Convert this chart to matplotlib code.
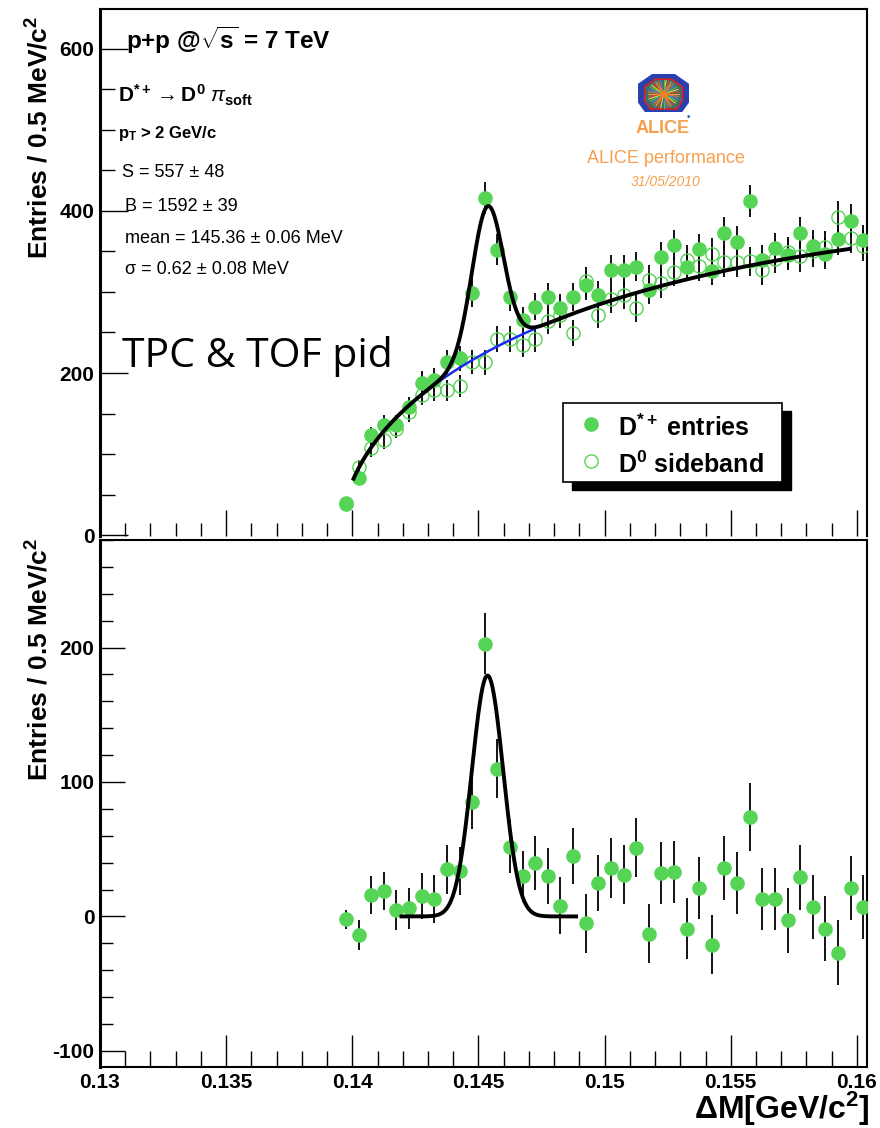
import numpy as np
import matplotlib
matplotlib.use("Agg")
import matplotlib.pyplot as plt
from matplotlib.patches import Rectangle, Polygon
from matplotlib.lines import Line2D
from matplotlib.ticker import MultipleLocator, FuncFormatter

plt.rcParams['font.family'] = ['Liberation Sans', 'DejaVu Sans']
plt.rcParams['mathtext.fontset'] = 'custom'
plt.rcParams['mathtext.rm'] = 'Liberation Sans'
plt.rcParams['mathtext.it'] = 'Liberation Sans:italic'
plt.rcParams['mathtext.bf'] = 'Liberation Sans:bold'
plt.rcParams['axes.unicode_minus'] = False

W, H = 880, 1128

# delta-M histogram, 0.5 MeV bins
bin_first = 0.13975
bin_width = 0.0005
n_bins = 42
dm = bin_first + bin_width * np.arange(n_bins)

dstar = [38, 70, 123, 136, 136, 158, 188, 192, 214, 218, 299, 416, 352, 294,
         265, 282, 294, 280, 294, 308, 296, 327, 327, 331, 302, 343, 358, 331,
         353, 326, 373, 362, 412, 340, 354, 346, 373, 357, 347, 365, 388, 364]
dstar_err = [6, 8, 11, 12, 12, 13, 14, 14, 15, 15, 17, 20, 19, 17, 16, 17, 17,
             17, 17, 18, 17, 18, 18, 18, 17, 19, 19, 18, 19, 18, 19, 19, 20, 18,
             19, 19, 19, 19, 19, 19, 20, 19]

sideband = [40, 84, 107, 117, 131, 152, 173, 179, 179, 184, 214, 213, 242, 242,
            235, 242, 264, 272, 249, 313, 271, 291, 296, 280, 315, 311, 325, 340,
            332, 347, 337, 337, 338, 327, 341, 349, 344, 350, 356, 392, 367, 357]
sideband_err = [6, 9, 10, 11, 11, 12, 13, 13, 13, 14, 15, 15, 16, 16, 15, 16, 16,
                16, 16, 18, 16, 17, 17, 17, 18, 18, 18, 18, 18, 19, 18, 18, 18,
                18, 18, 19, 19, 19, 19, 20, 19, 19]

diff = [-2, -14, 16, 19, 5, 6, 15, 13, 35, 34, 85, 203, 110, 52, 30, 40, 30, 8,
        45, -5, 25, 36, 31, 51, -13, 32, 33, -9, 21, -21, 36, 25, 74, 13, 13,
        -3, 29, 7, -9, -27, 21, 7]
diff_err = [7, 11, 14, 14, 15, 15, 17, 18, 18, 18, 20, 23, 22, 20, 19, 20, 21,
            21, 21, 22, 21, 22, 22, 22, 22, 23, 23, 23, 23, 22, 24, 23, 25, 23,
            23, 24, 24, 24, 24, 24, 24, 24]

# fit results (MeV)
S, S_err = 557, 48
B, B_err = 1592, 39
mean, mean_err = 145.36, 0.06
sigma, sigma_err = 0.62, 0.08

# background: a*sqrt(dm - m_pi)*exp(b*(dm - m_pi))
m_pi = 0.13957
bkg_a = 3200.0
bkg_b = -12.5
fit_range = (0.14005, 0.15968)
sig_range = (0.14195, 0.14887)

green = '#55d455'
orange = '#f6a04d'


def gaus(x):
    mu = mean / 1000.0
    s = sigma / 1000.0
    amp = S * bin_width / (np.sqrt(2 * np.pi) * s)
    return amp * np.exp(-0.5 * ((x - mu) / s) ** 2)


def bkg(x):
    t = x - m_pi
    return bkg_a * np.sqrt(t) * np.exp(bkg_b * t)


def box(l, t, r, b):
    return [l / W, 1 - b / H, (r - l) / W, (b - t) / H]


def fx(px):
    return px / W


def fy(py):
    return 1 - py / H


fig = plt.figure(figsize=(W / 100, H / 100), dpi=100)
ax1 = fig.add_axes(box(100, 9, 867, 536))
ax2 = fig.add_axes(box(100, 540, 867, 1067))

TICK_FS = 15

# ---- top: D*+ candidates and D0 sideband
ax1.errorbar(dm, dstar, yerr=dstar_err, fmt='o', ms=9.5, color=green, mec=green,
             ecolor='black', elinewidth=1.3, capsize=0, zorder=3)
ax1.errorbar(dm, sideband, yerr=sideband_err, fmt='o', ms=9.5, mfc='none',
             mec=green, mew=1.0, ecolor='black', elinewidth=1.3, capsize=0, zorder=3)

xf = np.linspace(fit_range[0], fit_range[1], 600)
ax1.plot(xf, bkg(xf) + gaus(xf), color='black', lw=2.8, zorder=5)
xb = np.linspace(mean / 1000 - 3 * sigma / 1000, mean / 1000 + 3 * sigma / 1000, 100)
ax1.plot(xb, bkg(xb), color='#1a2cf0', lw=1.8, zorder=4)

ax1.set_xlim(0.13, 0.1604)
ax1.set_ylim(-1, 649)
ax1.xaxis.set_major_locator(MultipleLocator(0.005))
ax1.xaxis.set_minor_locator(MultipleLocator(0.001))
ax1.yaxis.set_major_locator(MultipleLocator(200))
ax1.yaxis.set_minor_locator(MultipleLocator(50))
ax1.tick_params(axis='x', which='both', direction='in', top=False, labelbottom=False, width=1.0)
ax1.tick_params(axis='x', which='major', length=18.7)
ax1.tick_params(axis='x', which='minor', length=9.4)
ax1.tick_params(axis='y', which='both', direction='in', right=False, width=1.0, pad=4)
ax1.tick_params(axis='y', which='major', length=20)
ax1.tick_params(axis='y', which='minor', length=10.8)
for lab in ax1.get_yticklabels():
    lab.set_fontsize(TICK_FS)
    lab.set_fontweight('bold')
ax1.spines['bottom'].set_visible(False)
for sp in ('top', 'right'):
    ax1.spines[sp].set_linewidth(1.5)
ax1.spines['left'].set_linewidth(2.2)

# ---- bottom: sideband-subtracted distribution
ax2.errorbar(dm, diff, yerr=diff_err, fmt='o', ms=9.5, color=green, mec=green,
             ecolor='black', elinewidth=1.3, capsize=0, zorder=3)
xg = np.linspace(sig_range[0], sig_range[1], 400)
ax2.plot(xg, gaus(xg), color='black', lw=2.8, zorder=5)

ax2.set_xlim(0.13, 0.1604)
ax2.set_ylim(-112, 280)
ax2.xaxis.set_major_locator(MultipleLocator(0.005))
ax2.xaxis.set_minor_locator(MultipleLocator(0.001))
ax2.xaxis.set_major_formatter(FuncFormatter(lambda v, p: '%g' % round(v, 4)))
ax2.yaxis.set_major_locator(MultipleLocator(100))
ax2.yaxis.set_minor_locator(MultipleLocator(20))
ax2.tick_params(axis='x', which='both', direction='in', top=False, width=1.0, pad=4)
ax2.tick_params(axis='x', which='major', length=23)
ax2.tick_params(axis='x', which='minor', length=11.5)
ax2.tick_params(axis='y', which='both', direction='in', right=False, width=1.0, pad=4)
ax2.tick_params(axis='y', which='major', length=18)
ax2.tick_params(axis='y', which='minor', length=9.4)
for lab in ax2.get_xticklabels() + ax2.get_yticklabels():
    lab.set_fontsize(TICK_FS)
    lab.set_fontweight('bold')
for sp in ('top', 'right', 'bottom'):
    ax2.spines[sp].set_linewidth(1.5)
ax2.spines['left'].set_linewidth(2.2)

# axis titles
ylab = 'Entries / 0.5 MeV/$\\mathbf{c^{2}}$'
fig.text(fx(40), fy(16), ylab, rotation=90, ha='center', va='top',
         fontsize=19, fontweight='bold')
fig.text(fx(40), fy(538), ylab, rotation=90, ha='center', va='top',
         fontsize=19, fontweight='bold')
fig.text(fx(870), fy(1119), 'ΔM[GeV/$\\mathbf{c^{2}}$]', ha='right', va='baseline',
         fontsize=23, fontweight='bold')

# fit summary
fig.text(fx(126), fy(49), 'p+p @$\\mathbf{\\sqrt{s}}$ = 7 TeV', fontsize=17.5,
         fontweight='bold', va='baseline')
fig.text(fx(118), fy(103), '$\\mathbf{D^{*+}} \\rightarrow \\mathbf{D^{0}}\\ \\pi_{\\mathbf{soft}}$',
         fontsize=15, fontweight='bold', va='baseline')
fig.text(fx(118), fy(138), '$\\mathbf{p_{T}}$ > 2 GeV/c', fontsize=12,
         fontweight='bold', va='baseline')
stat_fs = 13
fig.text(fx(122), fy(177), 'S = %d ± %d' % (S, S_err), fontsize=stat_fs, va='baseline')
fig.text(fx(125), fy(211), 'B = %d ± %d' % (B, B_err), fontsize=stat_fs, va='baseline')
fig.text(fx(125), fy(243), 'mean = %.2f ± %.2f MeV' % (mean, mean_err), fontsize=stat_fs, va='baseline')
fig.text(fx(125), fy(274), 'σ = %.2f ± %.2f MeV' % (sigma, sigma_err), fontsize=stat_fs, va='baseline')

fig.text(fx(122), fy(367), 'TPC & TOF pid', fontsize=29.5,
         family=['Open Sans', 'DejaVu Sans'], va='baseline')

# ALICE performance tag
fig.text(fx(663), fy(133), 'ALICE', fontsize=13, fontweight='bold', color=orange,
         ha='center', va='baseline')
fig.text(fx(666), fy(163), 'ALICE performance', fontsize=13, color=orange,
         ha='center', va='baseline')
fig.text(fx(666), fy(186), '31/05/2010', fontsize=10, style='italic', color=orange,
         ha='center', va='baseline')

logo = fig.add_axes(box(638, 74, 689, 112))
logo.set_xlim(0, 1)
logo.set_ylim(0, 1)
logo.axis('off')
outer = [(0.3, 1.0), (0.7, 1.0), (1.0, 0.72), (1.0, 0.28), (0.85, 0.0),
         (0.15, 0.0), (0.0, 0.28), (0.0, 0.72)]
inner = [(0.34, 0.86), (0.66, 0.86), (0.87, 0.66), (0.87, 0.3), (0.76, 0.08),
         (0.24, 0.08), (0.13, 0.3), (0.13, 0.66)]
logo.add_patch(Polygon(outer, closed=True, fc='#2a3fb0', ec='#2a3fb0'))
logo.add_patch(Polygon(inner, closed=True, fc='#3b6f6a', ec='#e02020', lw=1.2))
ray_cols = ['#f0a030', '#e84020', '#f0d040', '#60c040', '#4080e0', '#f07030']
for i, ang in enumerate(np.linspace(0, 2 * np.pi, 36, endpoint=False)):
    logo.plot([0.5, 0.5 + 0.3 * np.cos(ang)], [0.47, 0.47 + 0.36 * np.sin(ang)],
              color=ray_cols[i % len(ray_cols)], lw=0.8)
logo.plot([0.5], [0.47], 'o', color='#f08020', ms=4)
fig.text(fx(688), fy(117), '•', color='#3060d0', fontsize=7, ha='center', va='center')

# legend with drop shadow
for art in (
    Rectangle((fx(572), fy(490)), fx(791) - fx(572), fy(411) - fy(490),
              fc='black', ec='black', transform=fig.transFigure, zorder=6),
    Rectangle((fx(563), fy(482)), fx(782) - fx(563), fy(403) - fy(482),
              fc='white', ec='black', lw=1.2, transform=fig.transFigure, zorder=7),
):
    art.set_clip_on(False)
    ax1.add_patch(art)
for py, filled in ((424, True), (461, False)):
    mk = Line2D([fx(591)], [fy(py)], marker='o', ms=9.5, ls='none',
                mfc=green if filled else 'none', mec=green, mew=1.0,
                transform=fig.transFigure, zorder=8)
    mk.set_clip_on(False)
    ax1.add_line(mk)
fig.text(fx(618), fy(436), '$\\mathbf{D^{*+}}$ entries', fontsize=18,
         fontweight='bold', va='baseline', zorder=9)
fig.text(fx(618), fy(473), '$\\mathbf{D^{0}}$ sideband', fontsize=18,
         fontweight='bold', va='baseline', zorder=9)

fig.savefig('out.png', dpi=100)
